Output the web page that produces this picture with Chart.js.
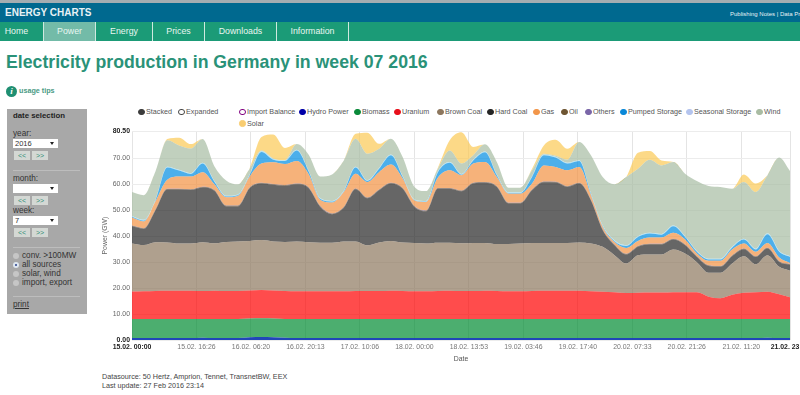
<!DOCTYPE html>
<html>
<head>
<meta charset="utf-8">
<title>Electricity production in Germany in week 07 2016</title>
<script src="https://cdn.jsdelivr.net/npm/chart.js@4"></script>
<style>
html, body { margin: 0; padding: 0; background: #fff; overflow: hidden; width: 800px; height: 395px; }
body { font-family: "Liberation Sans", Arial, sans-serif; position: relative; }
.abs { position: absolute; white-space: nowrap; }
#strip { left: 0; top: 0; width: 800px; height: 3px; background: #a4adb1; }
#brand { left: 0; top: 3px; width: 800px; height: 19px; background: #00698f; }
#brandText { left: 5px; top: 7px; color: #e8f2f5; font: bold 10px "Liberation Sans", Arial, sans-serif; }
#notes { left: 730px; top: 10.5px; color: #e8f2f5; font-size: 6px; }
#nav { left: 0; top: 22px; width: 800px; height: 19px; background: #1b9b77; }
.tab { top: 22px; height: 19px; line-height: 19px; color: #e9f6f1; font-size: 8.8px; text-align: center; border-right: 1px solid #cfe9e0; }
#title { left: 6px; top: 52px; color: #2a9278; font: bold 17.7px "Liberation Sans", Arial, sans-serif; }
#tipIcon { left: 6px; top: 86px; width: 11px; height: 11px; border-radius: 50%; background: #1f8f72; color: #fff; font: italic bold 9px/11px "Liberation Serif", serif; text-align: center; }
#tips { left: 19px; top: 86px; color: #4a9a84; font: bold 7.2px/10px "Liberation Sans", Arial, sans-serif; }
#side { left: 7px; top: 109px; width: 80px; height: 205px; background: #a8a8a8; }
.lbl { color: #333; font-size: 8.2px; line-height: 10px; }
.sel { left: 13px; width: 45px; height: 9px; background: #fff; color: #333; font-size: 7.5px; line-height: 9px; text-indent: 2px; }
.sel::after { content: ""; position: absolute; right: 4px; top: 3px; border-left: 2px solid transparent; border-right: 2px solid transparent; border-top: 3px solid #222; }
.btn { width: 16px; height: 9px; background: #d4d8d4; color: #2f8f74; font-size: 7px; line-height: 9px; text-align: center; }
.sep { left: 13px; width: 67px; height: 1px; background: #bdbdbd; }
.radio { left: 13px; width: 6px; height: 6px; border-radius: 50%; background: #c6c6c6; }
.radio.on { background: #dfe7f0; }
.radio.on::after { content: ""; position: absolute; left: 2px; top: 2px; width: 2px; height: 2px; background: #27408b; border-radius: 50%; }
.leg { color: #555; font-size: 7.2px; line-height: 9px; }
.dot { width: 6.5px; height: 6.5px; border-radius: 50%; box-sizing: border-box; }
#source { left: 102px; top: 373px; color: #444; font-size: 7.2px; line-height: 8.5px; }
canvas { position: absolute; }
#wrap { position: absolute; left: 95px; top: 125px; width: 745px; height: 240px; }
</style>
</head>
<body>
<div class="abs" id="strip"></div>
<div class="abs" id="brand"></div>
<div class="abs" id="brandText">ENERGY CHARTS</div>
<div class="abs" id="notes">Publishing Notes | Data Protection</div>
<div class="abs" id="nav"></div>
<div class="abs tab" style="left:0;width:33px;border-right:none">Home</div>
<div class="abs" style="left:43px;top:22px;width:1px;height:19px;background:#cfe9e0"></div>
<div class="abs tab" style="left:44px;width:51px;background:#73bba8">Power</div>
<div class="abs tab" style="left:96px;width:56px">Energy</div>
<div class="abs tab" style="left:153px;width:51px">Prices</div>
<div class="abs tab" style="left:205px;width:71px">Downloads</div>
<div class="abs tab" style="left:277px;width:71px">Information</div>
<div class="abs" id="title">Electricity production in Germany in week 07 2016</div>
<div class="abs" id="tipIcon">i</div>
<div class="abs" id="tips">usage tips</div>

<div class="abs" id="side"></div>
<div class="abs lbl" style="left:13px;top:111px;font-weight:bold;color:#222;font-size:7.8px">date selection</div>
<div class="abs lbl" style="left:13px;top:129px">year:</div>
<div class="abs sel" style="top:139px">2016</div>
<div class="abs btn" style="left:14px;top:151px">&lt;&lt;</div>
<div class="abs btn" style="left:32px;top:151px">&gt;&gt;</div>
<div class="abs sep" style="top:170px"></div>
<div class="abs lbl" style="left:13px;top:174px">month:</div>
<div class="abs sel" style="top:184px"></div>
<div class="abs btn" style="left:14px;top:196px">&lt;&lt;</div>
<div class="abs btn" style="left:32px;top:196px">&gt;&gt;</div>
<div class="abs lbl" style="left:13px;top:206px">week:</div>
<div class="abs sel" style="top:216px">7</div>
<div class="abs btn" style="left:14px;top:228px">&lt;&lt;</div>
<div class="abs btn" style="left:32px;top:228px">&gt;&gt;</div>
<div class="abs sep" style="top:247px"></div>
<div class="abs radio" style="top:253px"></div>
<div class="abs radio on" style="top:262px"></div>
<div class="abs radio" style="top:271px"></div>
<div class="abs radio" style="top:280px"></div>
<div class="abs lbl" style="left:22px;top:251px">conv. &gt;100MW</div>
<div class="abs lbl" style="left:22px;top:260px">all sources</div>
<div class="abs lbl" style="left:22px;top:269px">solar, wind</div>
<div class="abs lbl" style="left:22px;top:278px">import, export</div>
<div class="abs sep" style="top:296px"></div>
<div class="abs lbl" style="left:13px;top:300px;text-decoration:underline">print</div>

<div id="legend"></div>
<div id="wrap"><canvas id="powerChart"></canvas></div>
<div class="abs" id="source">Datasource: 50 Hertz, Amprion, Tennet, TransnetBW, EEX<br>Last update: 27 Feb 2016 23:14</div>

<script>
// hours since 15.02. 00:00, three hourly
const hours = [0,3,6,9,12,15,18,21,24,27,30,33,36,39,42,45,48,51,54,57,60,63,66,69,72,75,78,81,84,87,90,93,96,99,102,105,108,111,114,117,120,123,126,129,132,135,138,141,144,147,150,153,156,159,162,165,167.75];

// GW
const hydro = [0.8,0.8,0.8,0.8,0.8,0.8,0.9,0.8,0.8,0.8,1.1,1.2,1.1,0.9,0.8,0.8,0.8,0.8,0.8,0.8,0.8,0.8,0.8,0.8,0.8,0.8,0.8,0.8,0.8,0.8,0.8,0.8,0.8,0.8,0.8,0.8,0.8,0.8,0.8,0.8,0.8,0.8,0.8,0.8,0.8,0.8,0.8,0.8,0.8,0.8,0.8,0.8,0.8,0.8,0.9,0.8,0.8];
const biomass = [7.3,7.3,7.3,7.3,7.3,7.3,7.2,7.3,7.3,7.3,7.2,7.2,7.2,7.2,7.3,7.3,7.3,7.3,7.3,7.3,7.3,7.3,7.3,7.3,7.3,7.3,7.3,7.3,7.3,7.3,7.3,7.3,7.3,7.3,7.3,7.3,7.3,7.3,7.3,7.3,7.3,7.3,7.3,7.3,7.3,7.3,7.3,7.3,7.3,7.3,7.3,7.3,7.3,7.3,7.2,7.3,7.3];
const uranium = [10.6,10.7,10.8,10.9,10.9,10.9,10.8,10.9,10.8,10.8,10.8,10.9,10.8,10.8,10.7,10.7,10.7,10.7,10.7,10.8,10.8,10.8,10.9,10.8,10.7,10.7,10.8,10.9,10.8,10.8,10.9,10.8,10.7,10.7,10.8,10.9,10.9,10.9,10.9,10.7,10.5,10.3,10,10.1,10.2,10.2,10.3,10.3,10.3,8.6,8,9.3,10.1,10.3,10.5,9.5,8.4];
const brownCoal = [18.5,17.8,18.8,18.6,18.2,18.2,18.8,18.3,18.9,19.1,19.1,19.2,18.9,18.9,19.2,18.9,18.7,18.7,19.2,19.1,17.6,18.7,19.2,18.7,18.6,18.4,18.6,18.5,18.4,18.5,18.4,18.1,18.2,18.4,18.5,18.4,18.4,18.4,18.6,18.4,17.3,14.3,11.4,14.5,14.7,14.7,16.5,14.9,11.6,9.2,9.8,12.1,14.1,10.8,14.1,10.6,10.2];
const hardCoal = [6.6,6.2,12.3,20.4,20.8,20.6,21.1,20.2,13.7,13.5,20.3,21.8,21.8,21.6,22,20.9,13.8,11,13,20.1,18.1,20.1,22.1,20.7,13.9,12.4,20.8,20.8,20,22.9,23.2,22,15.6,15.4,20.3,23.4,23.3,21.6,22.7,16.6,6.4,3.8,3.4,3.2,3.8,3.8,3.8,3.2,2,2.6,2.3,2.8,2.7,2.8,2.6,1.9,2.3];
const oil = [0.2,0.2,0.2,0.2,0.2,0.2,0.2,0.2,0.2,0.2,0.2,0.2,0.2,0.2,0.2,0.2,0.2,0.2,0.2,0.2,0.2,0.2,0.2,0.2,0.2,0.2,0.2,0.2,0.2,0.2,0.2,0.2,0.2,0.2,0.2,0.2,0.2,0.2,0.2,0.2,0.2,0.2,0.2,0.2,0.2,0.2,0.2,0.2,0.2,0.2,0.2,0.2,0.2,0.2,0.2,0.2,0.2];
const others = [0.1,0.1,0.1,0.1,0.1,0.1,0.1,0.1,0.1,0.1,0.1,0.1,0.1,0.1,0.1,0.1,0.1,0.1,0.1,0.1,0.1,0.1,0.1,0.1,0.1,0.1,0.1,0.1,0.1,0.1,0.1,0.1,0.1,0.1,0.1,0.1,0.1,0.1,0.1,0.1,0.1,0.1,0.1,0.1,0.1,0.1,0.1,0.1,0.1,0.1,0.1,0.1,0.1,0.1,0.1,0.1,0.1];
const gas = [3.1,2.6,3.2,3.5,4.7,4.9,5.6,2.2,3.2,3.7,4.2,7.4,8.4,8.1,8.7,5.1,2.4,4.2,5.7,5.7,6,6.7,7,3.6,2.2,3.3,4,6.8,5.9,7.4,7.7,3.5,3.5,3.5,2.3,6.2,5.7,6.1,6.1,1.7,1,1,2.3,2,2.4,2.4,2.3,1.9,1,1.7,2,2.3,1.9,1.7,1.8,1.4,0.4];
const pumpedStorage = [0.3,0.3,0.3,4.7,2.3,1,3.3,1,0.3,0.3,0.5,4.5,1,1.2,4,1,0.3,0.3,0.2,2.4,0.4,1.3,3.6,0.6,0.1,0.1,2.1,2.9,0.2,1.2,3.8,0.7,0.2,0.2,2.5,3.9,3.6,2.6,2.3,0.4,0.2,0.3,0.7,1.5,1.5,1.1,2.5,1,0.7,0.5,0.5,0.7,1.5,0.9,3.4,2.2,2.3];
const seasonalStorage = [0.3,0.3,0.3,0.3,0.3,0.3,0.3,0.3,0.3,0.3,0.3,0.3,0.3,0.3,0.3,0.3,0.3,0.3,0.3,0.3,0.3,0.3,0.3,0.3,0.3,0.3,0.3,0.3,0.3,0.3,0.3,0.3,0.3,0.3,0.3,0.3,0.3,0.3,0.3,0.3,0.3,0.3,0.3,0.3,0.3,0.3,0.3,0.3,0.3,0.3,0.3,0.3,0.3,0.3,0.3,0.3,0.3];
const wind = [9.2,9.5,10.9,10.2,9.4,9.5,9.2,5.7,5.9,3.9,2.2,0.2,0.2,0,2.2,6.2,8.4,10.2,11.7,10.8,10.2,7.4,6.1,7.4,4.8,3.8,1,4.4,4,1.7,2.7,4.8,1.8,1.8,2.3,0.3,0.4,1.2,7,14.7,18.7,21.6,26.3,26,28.2,26.4,24.5,24.1,27,28.1,27.7,22.4,21.9,21.8,22.4,36,32.8];
const solar = [0,0,0,0.5,3,1.7,0,0,0,0,0.2,5.2,9.2,4.7,0,0,0,0,0,1.9,8.1,1.9,0,0,0,0,0.5,4,12.1,3.2,0,0,0,0,0.6,3.2,6.2,4.2,0,0,0,0,0,6.2,3.3,1.9,0,0,0,0,0,0,2.9,3.3,0,0,0];

// minutes since 15.02. 00:00
const xTickMinutes = [0,986,1820,2653,3486,4320,5153,5986,6820,7653,8486,9320,10065];
const xTickLabels = ['15.02. 00:00','15.02. 16:26','16.02. 06:20','16.02. 20:13','17.02. 10:06','18.02. 00:00','18.02. 13:53','19.02. 03:46','19.02. 17:40','20.02. 07:33','20.02. 21:26','21.02. 11:20','21.02. 23:45'];
const yTickValues = [0,10,20,30,40,50,60,70,80.5];
const yTickLabels = ['0.00','10.00','20.00','30.00','40.00','50.00','60.00','70.00','80.50'];

const toXY = (values) => values.map((v, i) => ({ x: hours[i] * 60, y: v }));

function makeSet(label, values, color) {
    return {
        label,
        data: toXY(values),
        backgroundColor: color,
        borderColor: color,
        borderWidth: 0,
        pointRadius: 0,
        cubicInterpolationMode: 'monotone',
        fill: label === 'Hydro Power' ? 'origin' : '-1',
    };
}

// legend, left offset of the marker as measured on the picture
const legendRow = [
    ['Stacked', 141, '#3c3c3c', true], ['Expanded', 181, '#444', false],
    ['Import Balance', 242, '#800080', false], ['Hydro Power', 302, '#0000a8', true],
    ['Biomass', 357, '#0a8a3a', true], ['Uranium', 397, '#e8101c', true],
    ['Brown Coal', 440, '#8d775e', true], ['Hard Coal', 490, '#252525', true],
    ['Gas', 536, '#f2964a', true], ['Oil', 564, '#6e5532', true],
    ['Others', 588, '#7a66a8', true], ['Pumped Storage', 623, '#0a88d8', true],
    ['Seasonal Storage', 689, '#b4c4ee', true], ['Wind', 759, '#a9bca3', true],
];
const legendEl = document.getElementById('legend');
function addLegend(name, left, color, solid, rowShift) {
    const dot = document.createElement('div');
    dot.className = 'abs dot';
    dot.style.left = (left - 3) + 'px';
    dot.style.top = (108.5 + rowShift) + 'px';
    dot.style.border = '1.2px solid ' + color;
    if (solid) dot.style.background = color;
    legendEl.appendChild(dot);
    const txt = document.createElement('div');
    txt.className = 'abs leg';
    txt.style.left = (left + 5) + 'px';
    txt.style.top = (107 + rowShift) + 'px';
    txt.textContent = name;
    legendEl.appendChild(txt);
}
legendRow.forEach((r) => addLegend(r[0], r[1], r[2], r[3], 0));
addLegend('Solar', 242, '#f8cc70', true, 11.5);

const tickFont = (bold) => ({ family: '"Liberation Sans", Arial, sans-serif', size: 6.9, weight: bold ? 'bold' : 'normal' });

new Chart(document.getElementById('powerChart'), {
    type: 'line',
    data: {
        datasets: [
            makeSet('Hydro Power', hydro, 'rgba(20, 60, 180, 0.95)'),
            makeSet('Biomass', biomass, 'rgba(0, 140, 50, 0.7)'),
            makeSet('Uranium', uranium, 'rgba(255, 0, 0, 0.7)'),
            makeSet('Brown Coal', brownCoal, 'rgba(141, 119, 94, 0.7)'),
            makeSet('Hard Coal', hardCoal, 'rgba(37, 37, 37, 0.7)'),
            makeSet('Oil', oil, 'rgba(90, 65, 30, 0.8)'),
            makeSet('Others', others, 'rgba(110, 90, 160, 0.7)'),
            makeSet('Gas', gas, 'rgba(242, 146, 66, 0.7)'),
            makeSet('Pumped Storage', pumpedStorage, 'rgba(0, 141, 227, 0.7)'),
            makeSet('Seasonal Storage', seasonalStorage, 'rgba(150, 215, 240, 0.7)'),
            makeSet('Wind', wind, 'rgba(167, 188, 163, 0.7)'),
            makeSet('Solar', solar, 'rgba(251, 201, 84, 0.7)'),
        ],
    },
    options: {
        responsive: true,
        maintainAspectRatio: false,
        animation: false,
        layout: { padding: { top: 6, right: 50, left: 0, bottom: 0 } },
        plugins: { legend: { display: false }, tooltip: { enabled: false } },
        scales: {
            x: {
                type: 'linear',
                min: 0,
                max: 10065,
                afterFit: (scale) => { scale.height = 25; },
                afterBuildTicks: (scale) => { scale.ticks = xTickMinutes.map((v) => ({ value: v })); },
                ticks: {
                    autoSkip: false,
                    maxRotation: 0,
                    padding: 3,
                    callback: (v, i) => xTickLabels[i],
                    font: (c) => tickFont(c.index === 0 || c.index === xTickLabels.length - 1),
                    color: (c) => (c.index === 0 || c.index === xTickLabels.length - 1 ? '#222' : '#777'),
                },
                grid: { color: '#e4e4e4', drawTicks: false },
                border: { display: false },
                title: { display: true, text: 'Date', color: '#555', font: tickFont(false), padding: { top: 0, bottom: 2 } },
            },
            y: {
                stacked: true,
                min: 0,
                max: 80.5,
                afterFit: (scale) => { scale.width = 37; },
                afterBuildTicks: (scale) => { scale.ticks = yTickValues.map((v) => ({ value: v })); },
                ticks: {
                    autoSkip: false,
                    padding: 2,
                    callback: (v, i) => yTickLabels[i],
                    font: (c) => tickFont(c.index === 0 || c.index === yTickLabels.length - 1),
                    color: (c) => (c.index === 0 || c.index === yTickLabels.length - 1 ? '#222' : '#666'),
                },
                grid: { color: '#ececec', drawTicks: false },
                border: { display: false },
                title: { display: true, text: 'Power (GW)', color: '#666', font: tickFont(false), padding: { top: 6, bottom: 0 } },
            },
        },
    },
});
</script>
</body>
</html>
